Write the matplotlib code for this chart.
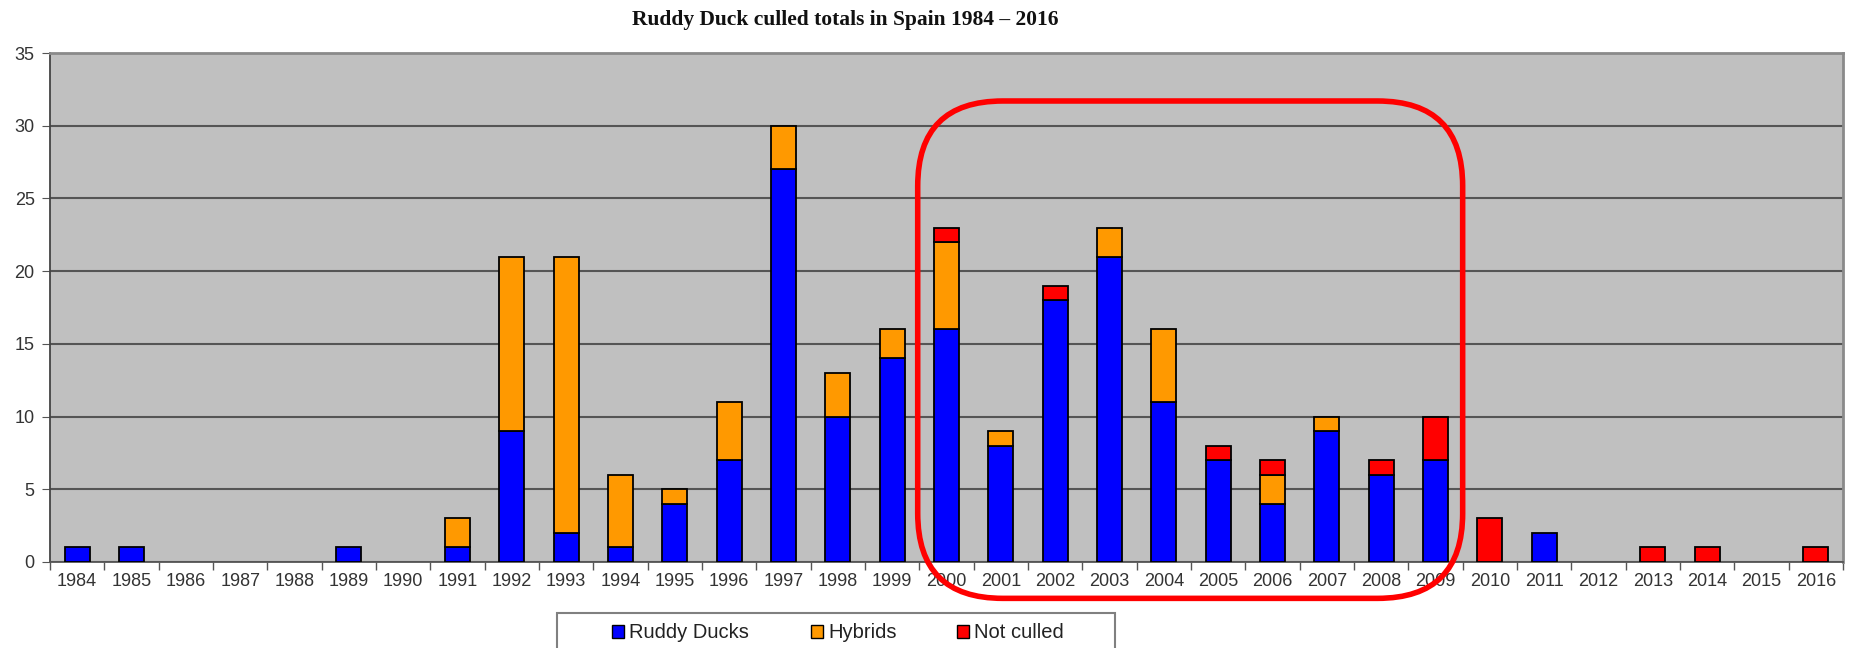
import matplotlib.pyplot as plt
from matplotlib.patches import Patch, FancyBboxPatch, Rectangle
import numpy as np

# datos
years = [str(y) for y in range(1984, 2017)]
ruddy = [1, 1, 0, 0, 0, 1, 0, 1, 9, 2, 1, 4, 7, 27, 10, 14,
         16, 8, 18, 21, 11, 7, 4, 9, 6, 7, 0, 2, 0, 0, 0, 0, 0]
hybrids = [0, 0, 0, 0, 0, 0, 0, 2, 12, 19, 5, 1, 4, 3, 3, 2,
           6, 1, 0, 2, 5, 0, 2, 1, 0, 0, 0, 0, 0, 0, 0, 0, 0]
not_culled = [0, 0, 0, 0, 0, 0, 0, 0, 0, 0, 0, 0, 0, 0, 0, 0,
              1, 0, 1, 0, 0, 1, 1, 0, 1, 3, 3, 0, 0, 1, 1, 0, 1]
yticks = [0, 5, 10, 15, 20, 25, 30, 35]
series_names = ["Ruddy Ducks", "Hybrids", "Not culled"]

BLUE = "#0000ff"
ORANGE = "#ff9900"
RED = "#ff0000"

plt.rcParams['font.family'] = ['Liberation Sans', 'DejaVu Sans']

fig = plt.figure(figsize=(18.5, 6.48), dpi=100)
ax = fig.add_axes([50 / 1850, 1 - 562 / 648, 1793 / 1850, 509 / 648])
ax.set_facecolor("#c0c0c0")

x = np.arange(len(years))
r = np.array(ruddy)
h = np.array(hybrids)
n = np.array(not_culled)
w = 0.46
kw = dict(width=w, edgecolor="black", linewidth=1.3, zorder=3)

def draw(vals, bottom, color):
    m = vals > 0
    ax.bar(x[m], vals[m], bottom=bottom[m], color=color, **kw)

draw(r, np.zeros_like(r), BLUE)
draw(h, r, ORANGE)
draw(n, r + h, RED)

ax.set_xlim(-0.5, len(years) - 0.5)
ax.set_ylim(0, 35)
ax.set_yticks(yticks)
ax.set_yticklabels([str(v) for v in yticks], color="#333333", fontsize=13)
ax.yaxis.grid(True, color="#555555", linewidth=1.5, zorder=0)
ax.set_axisbelow(True)

ax.set_xticks(x)
ax.set_xticklabels(years, color="#333333", fontsize=13)
ax.tick_params(axis="x", length=0, pad=8)
ax.set_xticks(np.arange(-0.5, len(years)), minor=True)
ax.tick_params(axis="x", which="minor", length=6, color="#555555", width=1)
ax.tick_params(axis="y", length=6, color="#555555", pad=5)

for s in ["top", "right"]:
    ax.spines[s].set_color("#8a8a8a")
    ax.spines[s].set_linewidth(2)
ax.spines["left"].set_color("#444444")
ax.spines["bottom"].set_color("#555555")
ax.spines["left"].set_linewidth(1.3)
ax.spines["bottom"].set_linewidth(1.3)

fig.text(845 / 1850, 1 - 20 / 648, "Ruddy Duck culled totals in Spain 1984 – 2016",
         ha="center", va="center", fontsize=15.5, fontweight="bold",
         family=["Liberation Serif", "DejaVu Serif"], color="#111111")

# leyenda: marco propio (recortado por abajo) y una entrada en cada posición
fig.patches.append(Rectangle((557 / 1850, -0.05), 558 / 1850, 0.05 + 1 - 613 / 648,
                             transform=fig.transFigure, facecolor="white",
                             edgecolor="#808080", linewidth=1.5))
entry_x = [612, 811, 957]
for name, color, ex in zip(series_names, (BLUE, ORANGE, RED), entry_x):
    fig.legend([Patch(facecolor=color, edgecolor="black", linewidth=1)], [name],
               loc="center left", bbox_to_anchor=(ex / 1850, 1 - 633 / 648),
               frameon=False, fontsize=14.5, handlelength=0.6, handleheight=0.6,
               handletextpad=0.25, borderpad=0, borderaxespad=0, labelcolor="#222222")

# marco rojo redondeado
fig.canvas.draw()
px_x = ax.transData.transform((1, 0))[0] - ax.transData.transform((0, 0))[0]
px_y = ax.transData.transform((0, 1))[1] - ax.transData.transform((0, 0))[1]
x0, x1 = 15.47, 25.5
y0, y1 = -2.5, 31.7
box = FancyBboxPatch((x0, y0), x1 - x0, y1 - y0,
                     boxstyle="round,pad=0,rounding_size=%f" % (85 / px_x),
                     mutation_aspect=px_x / px_y, facecolor="none",
                     edgecolor=RED, linewidth=4, clip_on=False, zorder=10)
ax.add_patch(box)

plt.savefig("out.png", dpi=100)
